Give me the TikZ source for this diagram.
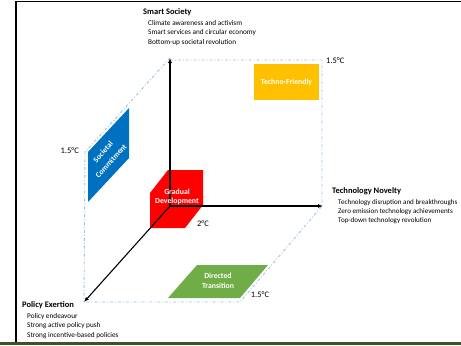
\documentclass[tikz,border=0pt]{standalone}
\usepackage{fontspec}
\setmainfont{Carlito}
\usetikzlibrary{arrows.meta,positioning}

\definecolor{dashblue}{HTML}{9DC3E6}
\definecolor{techorange}{HTML}{FFC000}
\definecolor{socblue}{HTML}{0070C0}
\definecolor{gradred}{HTML}{FF0000}
\definecolor{dirgreen}{HTML}{70AD47}
\definecolor{bandgreen}{HTML}{375623}

\begin{document}
\begin{tikzpicture}[x=1bp,y=-1bp,
    axis/.style={line width=1.1bp,-{Latex[length=5bp,width=4bp]}},
    frameline/.style={dashblue,line width=0.9bp,dash dot},
    head/.style={font=\fontsize{8.5}{10}\selectfont\bfseries,anchor=west,inner sep=0pt},
    list/.style={font=\fontsize{7.3}{9.5}\selectfont,align=left,inner sep=0pt},
    temp/.style={font=\fontsize{8.5}{10}\selectfont,inner sep=0pt},
    boxtxt/.style={text=white,font=\fontsize{7.8}{9.5}\selectfont\bfseries,align=center,inner sep=0pt}]
    \useasboundingbox (0,0) rectangle (461,345);
    % frame
    \draw[line width=1.3bp] (16,343) -- (16,1.5) -- (461,1.5);
    \fill[bandgreen] (0,342) rectangle (461,345);
    % corners
    \coordinate (O) at (170,206);
    \coordinate (S) at (170,58);
    \coordinate (T) at (323,206);
    \coordinate (P) at (84,302);
    \coordinate (ST) at (322,60);
    \coordinate (TT) at (322,206);
    \coordinate (SP) at (85,152);
    \coordinate (TP) at (240,302);
    % dashed box
    \draw[frameline] (170,60) -- (ST) -- (TT) -- (TP) -- (P);
    \draw[frameline] (S) -- (SP) -- (P);
    % scenarios
    \node[fill=techorange,minimum width=65bp,minimum height=36bp,boxtxt] (tf) at (286.5,82) {Techno-Friendly};
    \fill[socblue] (88,152) -- (129,108) -- (129,158) -- (88,202) -- cycle;
    \fill[gradred] (150,193) -- (168,170) -- (203,170) -- (203,205) -- (185,228) -- (150,228) -- cycle;
    \fill[dirgreen] (168,298) -- (197,265) -- (268,265) -- (240,298) -- cycle;
    % axes
    \draw[axis] (O) -- (S);
    \draw[axis] (O) -- (T);
    \draw[axis] (O) -- (P);
    % scenario names
    \node[boxtxt,rotate=48] (sc1) at (103,152) {Societal};
    \node[boxtxt,rotate=48] (sc2) at (111,161) {Commitment};
    \node[boxtxt] (gd) at (177,197) {Gradual\\Development};
    \node[boxtxt] (dt) at (218,281) {Directed\\Transition};
    % temperatures
    \node[temp,anchor=west] (t1) at (326,61) {1.5°C};
    \node[temp,anchor=east] (t2) at (79,151) {1.5°C};
    \node[temp] (t3) at (203,224) {2°C};
    \node[temp] (t4) at (260,295) {1.5°C};
    % axis labels
    \node[head] (ss) at (143,12) {Smart Society};
    \node[list,below right=4bp and 5bp of ss.south west] (ssl) {Climate awareness and activism\\Smart services and circular economy\\Bottom-up societal revolution};
    \node[head] (tn) at (332,191) {Technology Novelty};
    \node[list,below right=4bp and 6bp of tn.south west,font=\fontsize{7.1}{9.5}\selectfont] (tnl) {Technology disruption and breakthroughs\\Zero emission technology achievements\\Top-down technology revolution};
    \node[head] (pe) at (22,305) {Policy Exertion};
    \node[list,below right=4bp and 5bp of pe.south west] (pel) {Policy endeavour\\Strong active policy push\\Strong incentive-based policies};
\end{tikzpicture}
\end{document}
